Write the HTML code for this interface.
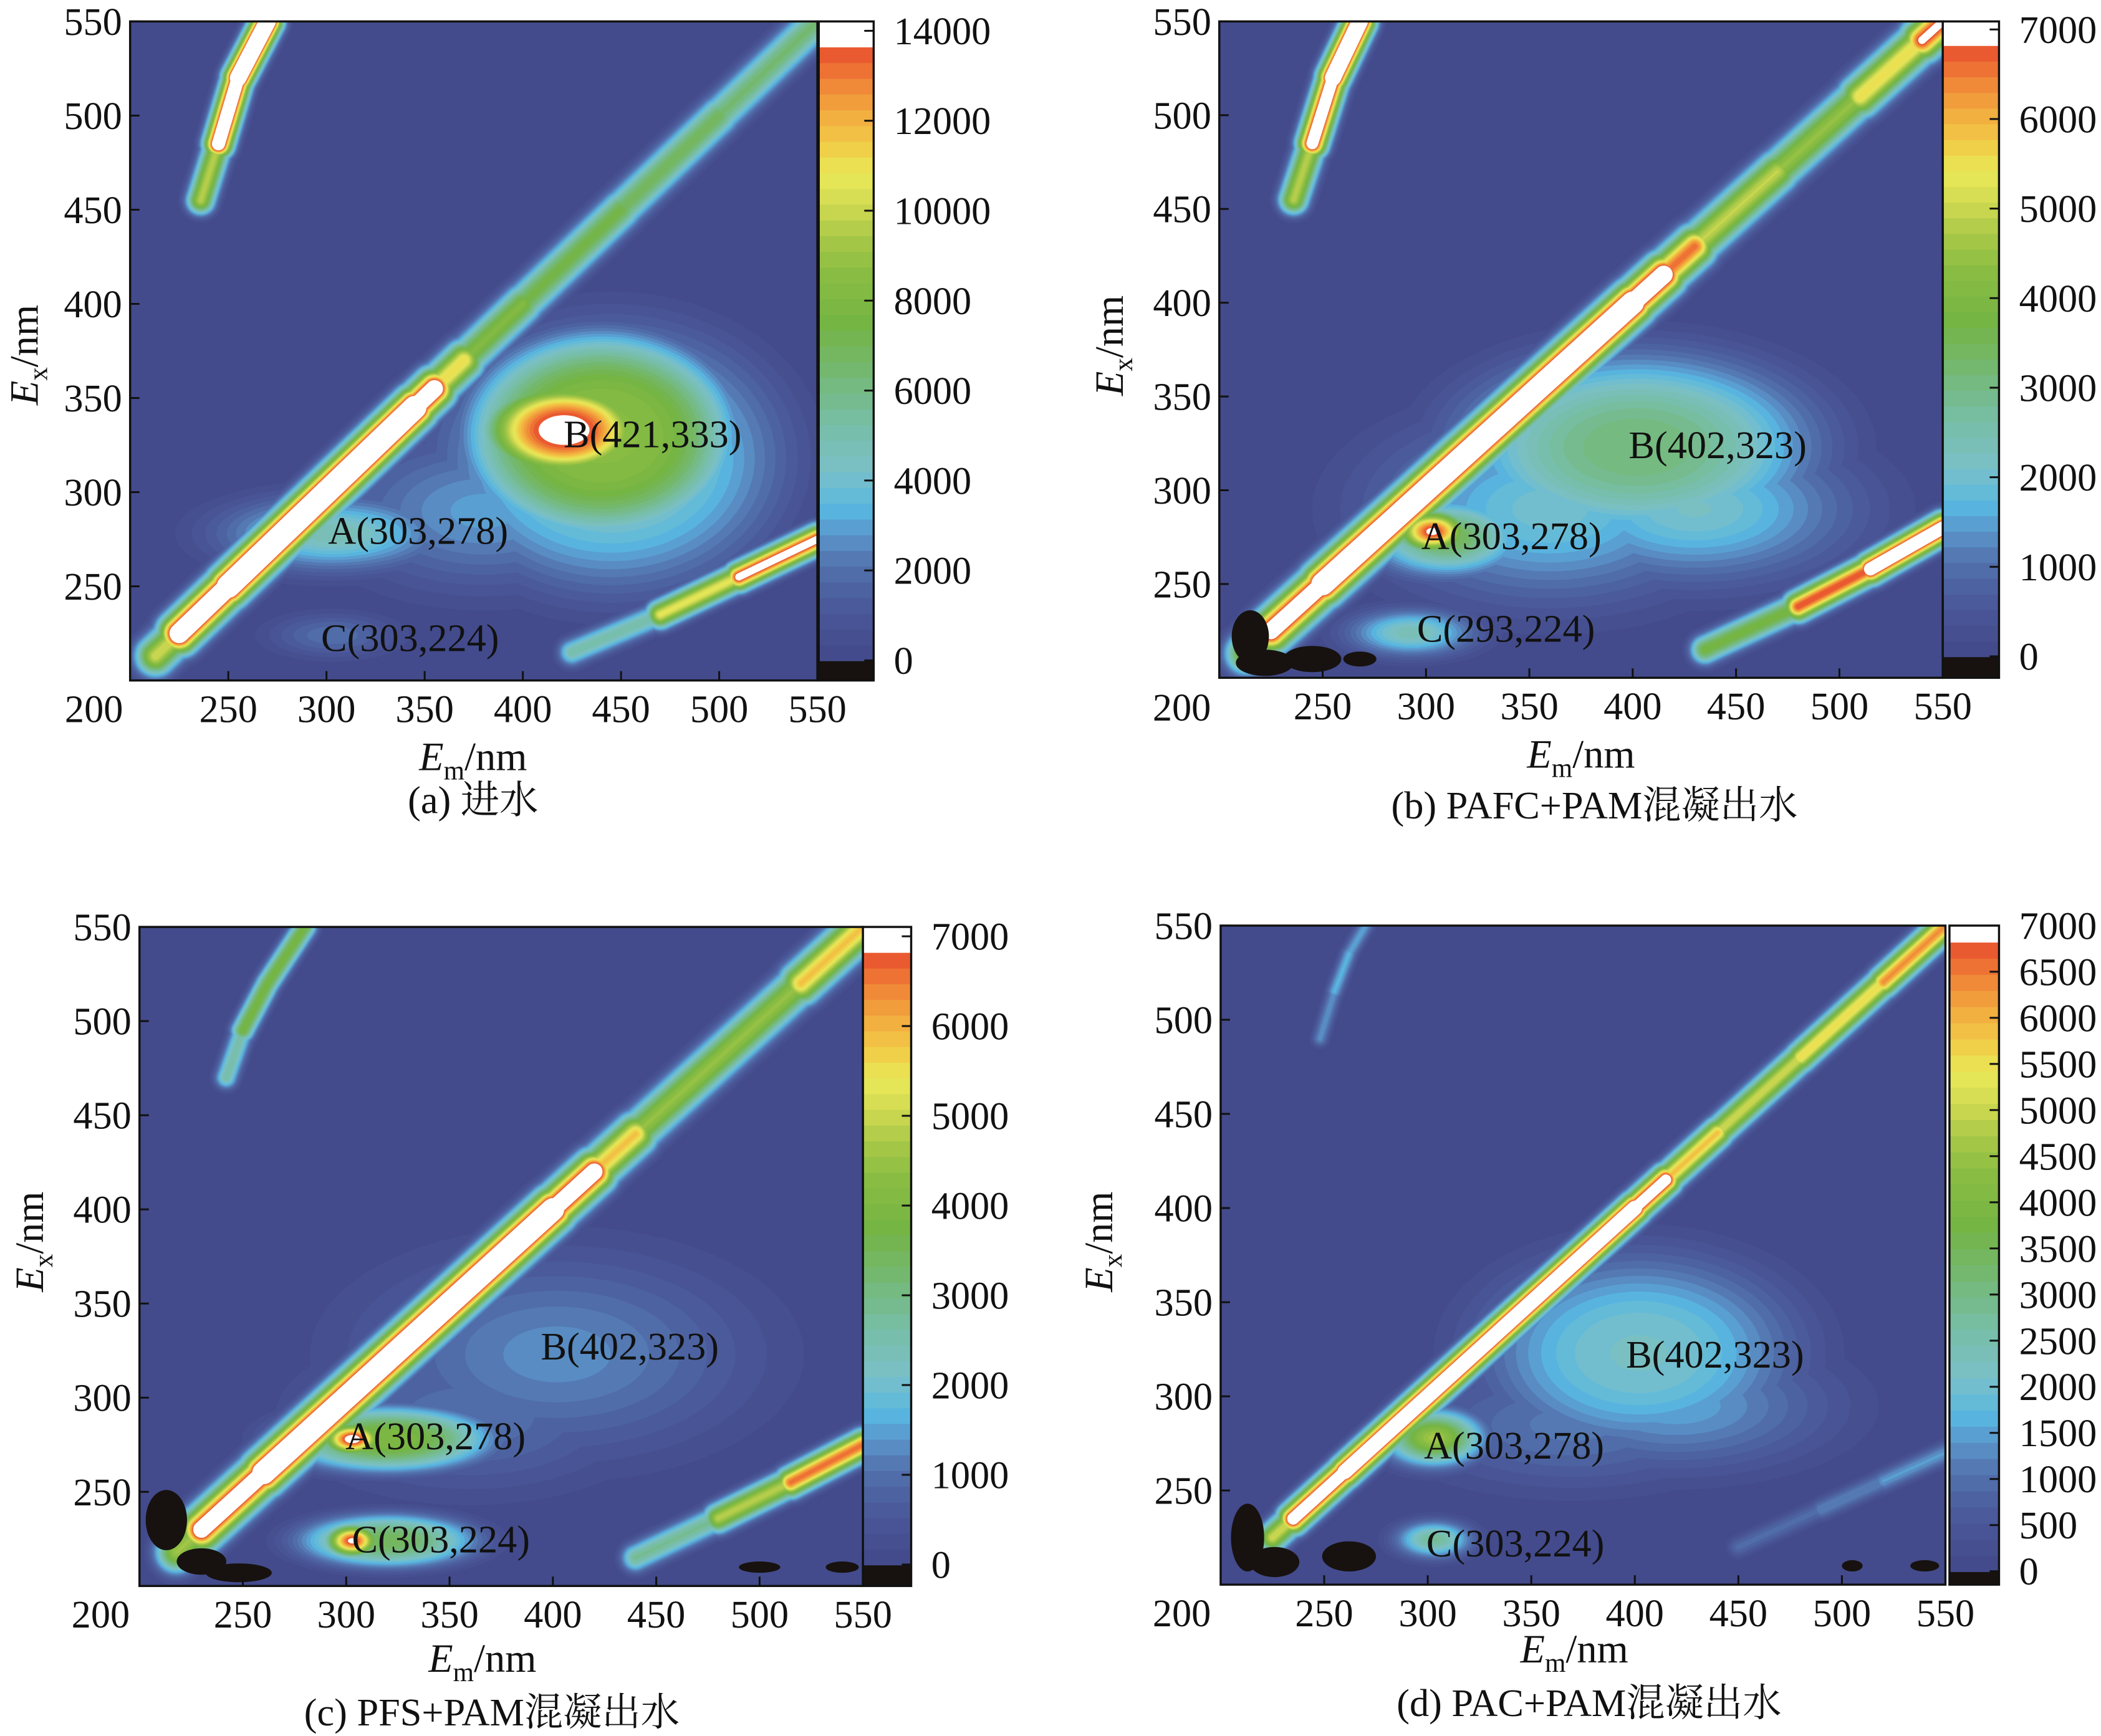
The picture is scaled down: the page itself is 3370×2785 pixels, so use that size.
<!DOCTYPE html>
<html><head><meta charset="utf-8"><style>
html,body{margin:0;padding:0;background:#fff}
svg{display:block}
text{font-family:"Liberation Serif","Noto Serif CJK SC","Noto Sans CJK SC",serif;fill:#111}
</style></head><body>
<svg id="fig" xmlns="http://www.w3.org/2000/svg" width="3370" height="2785" viewBox="0 0 1568 1296"></svg>
<script>
// ===== DATA (panel a: influent) =====
const aPeakEm=[421,440,445,303,303,380];
const aPeakEx=[333,330,318,278,224,290];
const aPeakVal=[14500,8800,5000,5200,2400,3300];
const aPeakSx=[28,48,62,40,25,55];
const aPeakSy=[17,38,50,14,9,30];
const aPeakQ=[1.5,2,1.5,1,1,1];
const aDiagEm=[213,225,250,300,345,355,370,400,450,500,550];
const aDiagVal=[5000,16000,20000,20000,20000,14000,9000,8000,7500,7000,6500];
const aUlEm=[236,245,255,270];const aUlEx=[455,485,520,550];const aUlVal=[5000,15000,20000,20000];
const aLrEm=[425,470,510,550];const aLrEx=[215,235,255,275];const aLrVal=[3000,8000,14000,16000];
// ===== panel b: PAFC+PAM =====
const bPeakEm=[402,430,303,310,293,360];
const bPeakEx=[323,290,278,275,224,290];
const bPeakVal=[3300,2300,7200,3800,2600,2200];
const bPeakSx=[60,55,12,25,22,60];
const bPeakSy=[35,28,8,14,9,35];
const bPeakQ=[1.3,1,1,1,1,1];
const bDiagEm=[213,225,250,300,350,400,415,430,470,510,540,550];
const bDiagVal=[2500,7000,9500,9500,9500,9500,7500,6000,4200,5000,6500,8000];
const bUlEm=[236,245,255,268];const bUlEx=[455,485,520,550];const bUlVal=[3000,7000,9500,9500];
const bLrEm=[435,480,515,550];const bLrEx=[215,238,258,280];const bLrVal=[2000,6000,8000,9000];
const bNegEm=[215,222,245,268];const bNegEx=[222,208,210,210];const bNegRx=[9,14,14,8];const bNegRy=[14,7,7,4];
// ===== panel c: PFS+PAM =====
const cPeakEm=[303,320,303,320,402,360];
const cPeakEx=[278,278,224,224,323,290];
const cPeakVal=[7500,4200,7200,3600,1500,1200];
const cPeakSx=[10,35,9,30,70,60];
const cPeakSy=[6,12,6,10,40,30];
const cPeakQ=[1,1.3,1,1.3,1,1];
const cDiagEm=[218,230,260,300,350,400,420,440,480,520,550];
const cDiagVal=[2500,7000,9500,9500,9500,9500,7000,5000,4200,5000,7000];
const cUlEm=[242,250,262,280];const cUlEx=[470,495,520,550];const cUlVal=[2000,3500,4500,3500];
const cLrEm=[440,480,515,550];const cLrEx=[215,236,255,275];const cLrVal=[2000,4000,6000,7500];
const cNegEm=[213,230,248,500,540];const cNegEx=[235,213,207,210,210];const cNegRx=[10,12,16,10,8];const cNegRy=[16,7,5,3,3];
// ===== panel d: PAC+PAM =====
const dPeakEm=[402,420,303,303,370];
const dPeakEx=[323,295,278,224,285];
const dPeakVal=[2300,1700,4800,3000,1300];
const dPeakSx=[55,55,16,13,60];
const dPeakSy=[38,25,10,7,25];
const dPeakQ=[1.3,1,1,1,1];
const dDiagEm=[225,235,260,300,350,400,415,440,480,520,550];
const dDiagVal=[3000,7500,9000,9000,9000,9000,7000,5000,5500,6000,7000];
const dUlEm=[248,255,262,270];const dUlEx=[490,515,535,550];const dUlVal=[1200,1800,1800,1500];
const dLrEm=[450,490,520,550];const dLrEx=[220,240,255,270];const dLrVal=[900,1300,1500,1700];
const dNegEm=[213,226,262,505,540];const dNegEx=[225,212,215,210,210];const dNegRx=[8,12,13,5,7];const dNegRy=[18,8,8,3,3];

const stops=[[0,'#434b8c'],[0.07,'#4a5898'],[0.14,'#5272ad'],[0.19,'#5b97cc'],[0.23,'#58b8e0'],[0.29,'#7ac0c8'],[0.36,'#78bea8'],[0.45,'#74b870'],[0.52,'#74b444'],[0.6,'#88bc42'],[0.66,'#a8c848'],[0.72,'#d6dc52'],[0.76,'#e8e858'],[0.8,'#f0d048'],[0.85,'#f2b040'],[0.9,'#f08a38'],[0.95,'#ea5a30'],[1,'#e53a2e']];
function hex(c){return [1,3,5].map(i=>parseInt(c.substr(i,2),16));}
function cmap(f){
  if(f>=1)return '#ffffff';
  if(f<0)return '#17120f';
  for(let i=1;i<stops.length;i++){if(f<=stops[i][0]){const a=stops[i-1],b=stops[i];const t=(f-a[0])/(b[0]-a[0]);const A=hex(a[1]),B=hex(b[1]);return 'rgb('+A.map((v,k)=>Math.round(v+(B[k]-v)*t)).join(',')+')';}}
  return stops[stops.length-1][1];
}
const NS='http://www.w3.org/2000/svg';
const svg=document.getElementById('fig');
function el(tag,attrs,parent){const e=document.createElementNS(NS,tag);for(const k in attrs)e.setAttribute(k,attrs[k]);(parent||svg).appendChild(e);return e;}
function txt(s,x,y,attrs,parent){const t=el('text',Object.assign({x:x,y:y},attrs),parent);t.textContent=s;return t;}

const FS=29;
const panels=[
 {id:'a',x0:97,x1:610,y0:16,y1:508,cb0:611,cb1:652,cbTop:23,cbZero:493,max:14000,step:2000,nl:40,
  pk:[aPeakEm,aPeakEx,aPeakVal,aPeakSx,aPeakSy,aPeakQ],
  ridges:[[aDiagEm,aDiagEm,aDiagVal,7],[aUlEm,aUlEx,aUlVal,5],[aLrEm,aLrEx,aLrVal,5]],neg:null,
  labels:[['B(421,333)',487,334],['A(303,278)',312,406],['C(303,224)',306,486]],
  xt:[353,575],yt:[18,265],cap:['(a) 进水',353,607],l200:[70,539]},
 {id:'b',x0:910,x1:1450,y0:16,y1:506,cb0:1450,cb1:1492,cbTop:22,cbZero:490,max:7000,step:1000,nl:40,
  pk:[bPeakEm,bPeakEx,bPeakVal,bPeakSx,bPeakSy,bPeakQ],
  ridges:[[bDiagEm,bDiagEm,bDiagVal,7],[bUlEm,bUlEx,bUlVal,5],[bLrEm,bLrEx,bLrVal,5]],
  neg:[bNegEm,bNegEx,bNegRx,bNegRy],
  labels:[['B(402,323)',1282,342],['A(303,278)',1128,410],['C(293,224)',1124,479]],
  xt:[1180,573],yt:[828,258],cap:['(b) PAFC+PAM混凝出水',1190,611],l200:[882,538]},
 {id:'c',x0:104,x1:644,y0:692,y1:1184,cb0:644,cb1:680,cbTop:699,cbZero:1168,max:7000,step:1000,nl:40,
  pk:[cPeakEm,cPeakEx,cPeakVal,cPeakSx,cPeakSy,cPeakQ],
  ridges:[[cDiagEm,cDiagEm,cDiagVal,7],[cUlEm,cUlEx,cUlVal,4],[cLrEm,cLrEx,cLrVal,5]],
  neg:[cNegEm,cNegEx,cNegRx,cNegRy],
  labels:[['B(402,323)',470,1015],['A(303,278)',325,1082],['C(303,224)',329,1159]],
  xt:[360,1248],yt:[22,927],cap:['(c) PFS+PAM混凝出水',367,1288],l200:[75,1215]},
 {id:'d',x0:911,x1:1452,y0:691,y1:1183,cb0:1455,cb1:1492,cbTop:691,cbZero:1173,max:7000,step:500,nl:40,
  pk:[dPeakEm,dPeakEx,dPeakVal,dPeakSx,dPeakSy,dPeakQ],
  ridges:[[dDiagEm,dDiagEm,dDiagVal,5],[dUlEm,dUlEx,dUlVal,3],[dLrEm,dLrEx,dLrVal,4]],
  neg:[dNegEm,dNegEx,dNegRx,dNegRy],
  labels:[['B(402,323)',1280,1021],['A(303,278)',1130,1089],['C(303,224)',1131,1162]],
  xt:[1175,1241],yt:[820,927],cap:['(d) PAC+PAM混凝出水',1186,1281],l200:[882,1214]}
];

panels.forEach(p=>{
  const g=el('g',{});
  
  
  const xs=v=>p.x0+(v-200)/350*(p.x1-p.x0);
  const ys=v=>p.y1-(v-200)/350*(p.y1-p.y0);
  const kx=(p.x1-p.x0)/350, ky=(p.y1-p.y0)/350;
  const cp=el('clipPath',{id:'clip'+p.id},g);
  el('rect',{x:p.x0,y:p.y0,width:p.x1-p.x0,height:p.y1-p.y0},cp);
  const plot=el('g',{'clip-path':'url(#clip'+p.id+')'},g);
  
  
  el('rect',{x:p.x0,y:p.y0,width:p.x1-p.x0,height:p.y1-p.y0,fill:cmap(0)},plot);
  const levels=[];for(let i=1;i<=p.nl;i++)levels.push(p.max*i/p.nl);
  const shapes=[];
  const [em,ex,val,sx,sy,qq]=p.pk;
  for(let j=0;j<em.length;j++){
    const q=qq[j]||1;
    levels.forEach((L,li)=>{if(L<val[j]){const s=Math.sqrt(2)*Math.pow(Math.log(val[j]/L),1/(2*q));
      shapes.push({L:L,li:li,t:'e',cx:xs(em[j]),cy:ys(ex[j]),rx:sx[j]*s*kx,ry:sy[j]*s*ky});}});
  }
  p.ridges.forEach(r=>{
    const [rem,rex,rv,sig]=r;
    for(let i=0;i<rem.length-1;i++){
      const I=(rv[i]+rv[i+1])/2;
      levels.forEach((L,li)=>{if(L<I){const s=Math.sqrt(2*Math.log(I/L));
        shapes.push({L:L,li:li,t:'l',x1:xs(rem[i]),y1:ys(rex[i]),x2:xs(rem[i+1]),y2:ys(rex[i+1]),w:2*sig*s*kx});}});
    }
  });
  shapes.sort((a,b)=>a.L-b.L);
  shapes.forEach(s=>{
    const c=cmap(s.li/p.nl+ (s.li===p.nl-1?0.05:0));
    if(s.t==='e'){const e=el('ellipse',{cx:s.cx,cy:s.cy,rx:s.rx,ry:s.ry,fill:c},plot);
      }
    else{const l=el('line',{x1:s.x1,y1:s.y1,x2:s.x2,y2:s.y2,stroke:c,'stroke-width':s.w,'stroke-linecap':'round'},plot);
      }
  });
  if(p.neg){const [ne,nx,nrx,nry]=p.neg;for(let j=0;j<ne.length;j++){
    const e=el('ellipse',{cx:xs(ne[j]),cy:ys(nx[j]),rx:nrx[j]*kx,ry:nry[j]*ky,fill:'#17120f'},plot);
    }}
  const fr=el('rect',{x:p.x0,y:p.y0,width:p.x1-p.x0,height:p.y1-p.y0,fill:'none',stroke:'#111','stroke-width':1.6},g);
  
  for(let v=250;v<=550;v+=50){
    el('line',{x1:xs(v),y1:p.y1,x2:xs(v),y2:p.y1-7,stroke:'#111','stroke-width':1.4},g);
    const t=txt(String(v),xs(v),p.y1+31,{'font-size':FS,'text-anchor':'middle'},g);
    
    el('line',{x1:p.x0,y1:ys(v),x2:p.x0+7,y2:ys(v),stroke:'#111','stroke-width':1.4},g);
    const u=txt(String(v),p.x0-6,ys(v)+10,{'font-size':FS,'text-anchor':'end'},g);
    
  }
  const t2=txt('200',p.l200[0],p.l200[1],{'font-size':FS,'text-anchor':'middle'},g);
  
  p.labels.forEach(l=>{const t=txt(l[0],l[1],l[2],{'font-size':FS,'text-anchor':'middle'},g);
    });
  const xt=el('text',{x:p.xt[0],y:p.xt[1],'font-size':30,'text-anchor':'middle'},g);
  xt.innerHTML='<tspan font-style="italic">E</tspan><tspan font-size="20" dy="7">m</tspan><tspan dy="-7">/nm</tspan>';
  
  const yt=el('text',{x:0,y:0,'font-size':30,'text-anchor':'middle',transform:'translate('+(p.yt[0]+10)+','+p.yt[1]+') rotate(-90)'},g);
  yt.innerHTML='<tspan font-style="italic">E</tspan><tspan font-size="20" dy="7">x</tspan><tspan dy="-7">/nm</tspan>';
  
  const cap=txt(p.cap[0],p.cap[1],p.cap[2],{'font-size':FS,'text-anchor':'middle'},g);
  
  const cb=el('g',{},g);
  
  const cy=v=>p.cbZero-(v/p.max)*(p.cbZero-p.cbTop);
  el('rect',{x:p.cb0,y:p.y0,width:p.cb1-p.cb0,height:p.y1-p.y0,fill:'#fff'},cb);
  el('rect',{x:p.cb0,y:p.cbZero,width:p.cb1-p.cb0,height:p.y1-p.cbZero,fill:'#17120f'},cb);
  for(let i=0;i<p.nl;i++){const ya=cy(p.max*i/p.nl),yb=cy(p.max*(i+1)/p.nl);
    el('rect',{x:p.cb0,y:yb,width:p.cb1-p.cb0,height:ya-yb+0.6,fill:cmap(i/p.nl+(i===p.nl-1?0.05:0))},cb);}
  el('rect',{x:p.cb0,y:p.y0,width:p.cb1-p.cb0,height:p.y1-p.y0,fill:'none',stroke:'#111','stroke-width':1.6},cb);
  for(let v=0;v<=p.max;v+=p.step){
    el('line',{x1:p.cb1-7,y1:cy(v),x2:p.cb1,y2:cy(v),stroke:'#111','stroke-width':1.4},cb);
    const t=txt(String(v),p.cb1+15,cy(v)+10,{'font-size':FS,'text-anchor':'start'},cb);
    
  }
});
</script>
</body></html>
